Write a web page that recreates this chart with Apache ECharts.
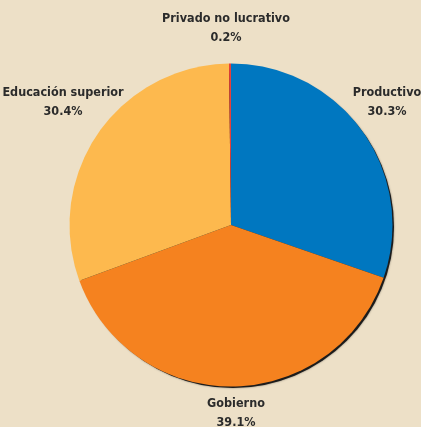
<!DOCTYPE html>
<html>
<head>
<meta charset="utf-8">
<style>
  html, body { margin: 0; padding: 0; background: #EDE0C7; }
  #chart { width: 421px; height: 427px; }
</style>
<script src="https://cdn.jsdelivr.net/npm/echarts@6/dist/echarts.min.js"></script>
</head>
<body>
<div id="chart"></div>
<script>
  // sectores de financiamiento, en sentido horario desde las 12
  var sectores = ['Productivo', 'Gobierno', 'Educación superior', 'Privado no lucrativo']
  var porcentajes = [30.3, 39.1, 30.4, 0.2]
  var colores = ['#0077C0', '#F5821F', '#FDB94E', '#E8403A']

  var chart = echarts.init(document.getElementById('chart'))

  // donde va cada etiqueta (centro del bloque de texto)
  var labelPos = [
    [387, 102],
    [236, 413],
    [63, 102],
    [226, 28]
  ]

  chart.setOption({
    backgroundColor: '#EDE0C7',
    animation: false,
    series: [
      {
        // sombra bajo el pastel
        type: 'pie',
        silent: true,
        center: [233, 227],
        radius: 161,
        startAngle: 90,
        label: { show: false },
        labelLine: { show: false },
        itemStyle: { color: '#1c1c1c', shadowBlur: 2, shadowColor: 'rgba(0,0,0,0.5)' },
        data: [{ value: 1, name: '' }],
        z: 1
      },
      {
        type: 'pie',
        center: [231, 225],
        radius: 161.5,
        startAngle: 90,
        clockwise: true,
        z: 2,
        data: sectores.map(function (s, i) {
          return { name: s, value: porcentajes[i], itemStyle: { color: colores[i] } }
        }),
        itemStyle: { borderWidth: 0 },
        label: {
          show: true,
          position: 'outside',
          alignTo: 'none',
          overflow: 'none',
          formatter: '{b}\n{c}%',
          fontFamily: '"Liberation Sans Narrow", "DejaVu Sans Condensed", sans-serif',
          fontWeight: 'bold',
          fontSize: 12.5,
          lineHeight: 19,
          color: '#2b2b2b',
          align: 'center'
        },
        labelLine: { show: false },
        labelLayout: function (params) {
          var p = labelPos[params.dataIndex]
          return { x: p[0], y: p[1], align: 'center', verticalAlign: 'middle', hideOverlap: false }
        }
      }
    ]
  })
</script>
</body>
</html>
